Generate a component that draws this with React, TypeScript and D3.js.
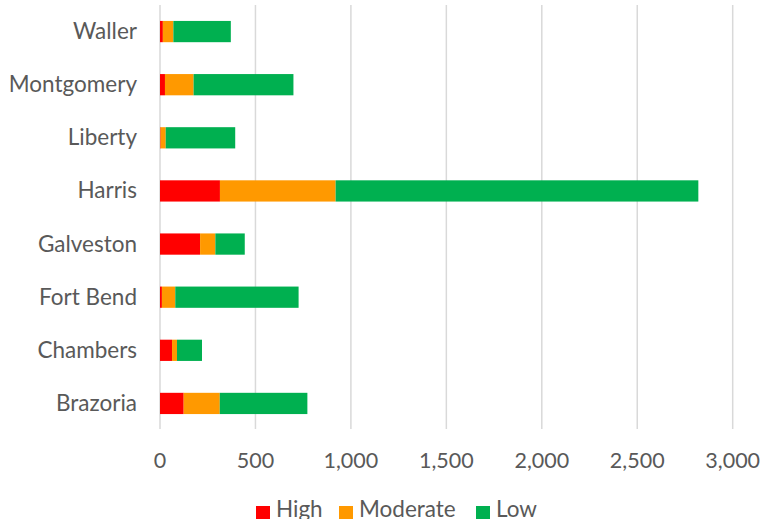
import React from "react";
import * as d3 from "d3";

const categories = ["Waller", "Montgomery", "Liberty", "Harris", "Galveston", "Fort Bend", "Chambers", "Brazoria"];
const seriesNames = ["High", "Moderate", "Low"];
const highValues = [15, 26, 3, 314, 210, 10, 63, 124];
const moderateValues = [55, 150, 27, 606, 80, 70, 26, 189];
const lowValues = [301, 523, 364, 1900, 154, 646, 131, 459];
const xTicks = [0, 500, 1000, 1500, 2000, 2500, 3000];
const colors = ["#FF0000", "#FF9900", "#00B050"];

const W = 769;
const H = 519;
const FONT = "Lato, 'Open Sans', sans-serif";
const TEXT = "#595959";

export default function App() {
  const x = d3.scaleLinear().domain([0, 3000]).range([160, 732.7]);
  const y = d3.scaleBand().domain(categories).range([5, 430]).paddingInner(0.6).paddingOuter(0.3);
  const rows = categories.map((c, i) => ({ cat: c, High: highValues[i], Moderate: moderateValues[i], Low: lowValues[i] }));
  const stacked = d3.stack<any>().keys(seriesNames)(rows);
  const fmt = d3.format(",");

  return (
    <svg width={W} height={H} style={{ position: "absolute", left: 0, top: 0 }} fontFamily={FONT}>
      <rect x={0} y={0} width={W} height={H} fill="#fff" />
      {xTicks.map((t) => (
        <line key={t} x1={x(t)} x2={x(t)} y1={5} y2={429} stroke="#d9d9d9" strokeWidth={1.5} />
      ))}
      {stacked.map((s, si) => (
        <g key={s.key}>
          {s.map((d, i) => (
            <rect
              key={i}
              x={x(d[0])}
              y={y(categories[i])!}
              width={Math.max(0, x(d[1]) - x(d[0]))}
              height={y.bandwidth()}
              fill={colors[si]}
            />
          ))}
        </g>
      ))}
      {categories.map((c) => (
        <text key={c} x={137} y={y(c)! + y.bandwidth() / 2 + 7.5} textAnchor="end" fontSize={22.5} fill={TEXT}>
          {c}
        </text>
      ))}
      {xTicks.map((t) => (
        <text key={t} x={x(t)} y={468} textAnchor="middle" fontSize={21.5} fill={TEXT}>
          {fmt(t)}
        </text>
      ))}
      {(() => {
        const items = [
          { sx: 256, tx: 276 },
          { sx: 339, tx: 359 },
          { sx: 476, tx: 496 },
        ];
        return seriesNames.map((n, i) => (
          <g key={n}>
            <rect x={items[i].sx} y={506} width={14} height={14} fill={colors[i]} />
            <text x={items[i].tx} y={517} fontSize={22.5} fill={TEXT}>
              {n}
            </text>
          </g>
        ));
      })()}
    </svg>
  );
}
